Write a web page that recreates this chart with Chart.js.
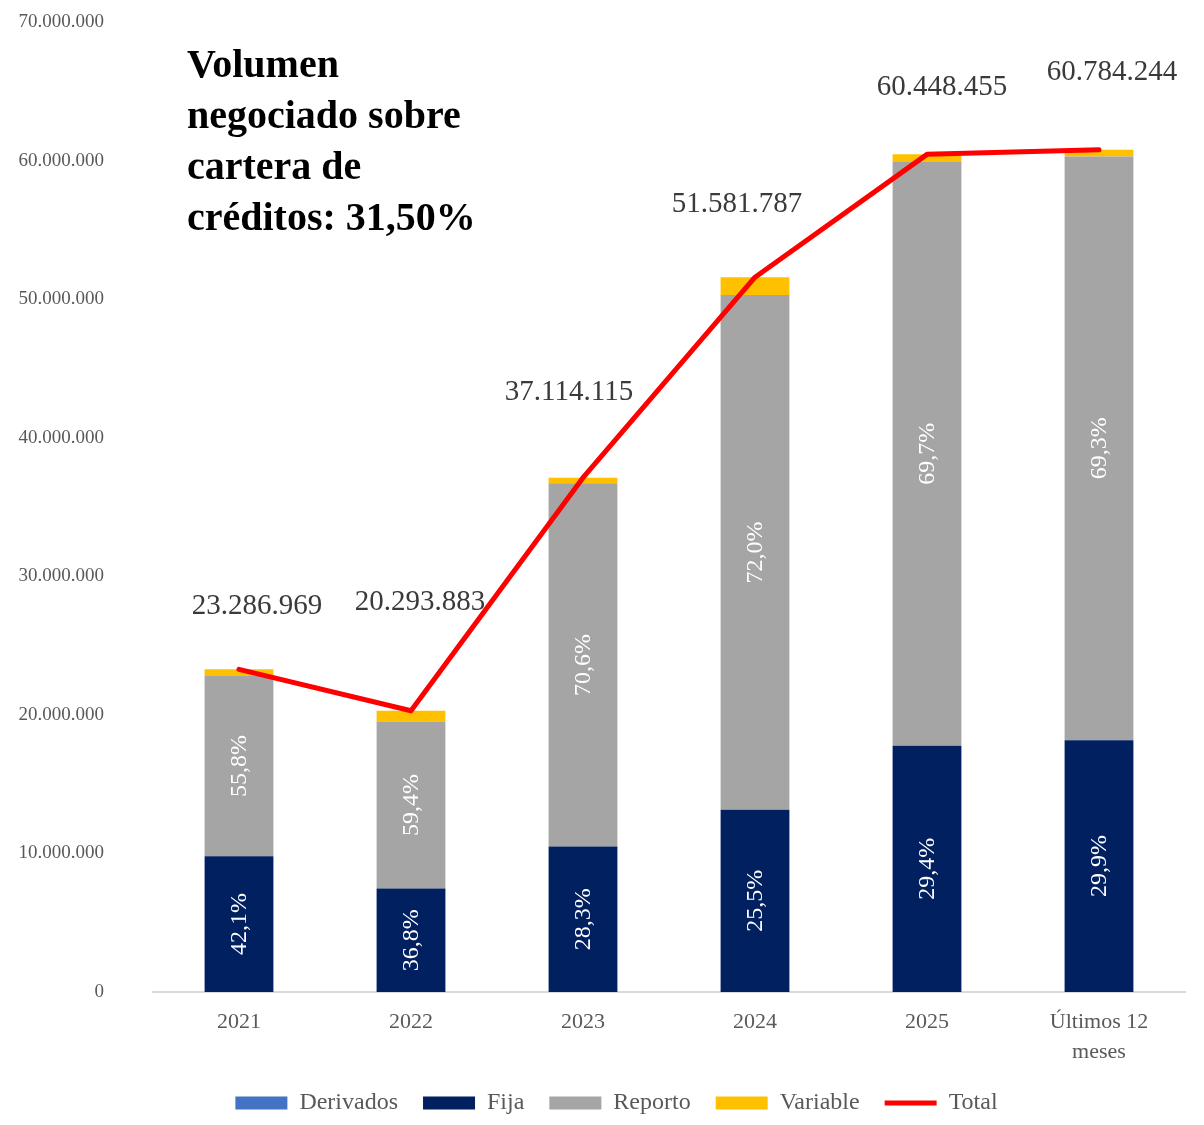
<!DOCTYPE html>
<html>
<head>
<meta charset="utf-8">
<script src="https://cdn.jsdelivr.net/npm/chart.js@4.4.1/dist/chart.umd.min.js"></script>
<style>
  html, body { margin: 0; padding: 0; background: #fff; }
  #wrap { width: 1204px; height: 1125px; }
</style>
</head>
<body>
<div id="wrap"><canvas id="volumen_chart"></canvas></div>
<script>
// datos
var categorias = ['2021', '2022', '2023', '2024', '2025', ['Últimos 12', 'meses']]
var derivados = [0, 0, 0, 0, 0, 0]
var fija = [9803814, 7468149, 10503295, 13153356, 17771846, 18174489]
var reporto = [12994129, 12054567, 26202565, 37138887, 42132573, 42123481]
var variable = [489026, 771167, 408255, 1289545, 544036, 486274]
var total = [23286969, 20293883, 37114115, 51581787, 60448455, 60784244]
var fijaPct = ['42,1%', '36,8%', '28,3%', '25,5%', '29,4%', '29,9%']
var reportoPct = ['55,8%', '59,4%', '70,6%', '72,0%', '69,7%', '69,3%']
var yTicks = [0, 10000000, 20000000, 30000000, 40000000, 50000000, 60000000, 70000000]

var serif = "'Liberation Serif', 'Times New Roman', serif"

function puntos(n) {
    return String(n).replace(/\B(?=(\d{3})+(?!\d))/g, '.')
}

// etiquetas de texto encima del grafico
const textosPlugin = {
    id: 'textos',
    afterLayout(chart, args, opts) {
        // correr la leyenda un poco a la derecha como en el original
        chart.legend.left += opts.legendShift
        chart.legend.right += opts.legendShift
    },
    afterDatasetsDraw(chart, args, opts) {
        var ctx = chart.ctx
        ctx.save()

        // porcentajes dentro de las barras
        ctx.fillStyle = '#ffffff'
        ctx.font = '24px ' + serif
        ctx.textAlign = 'center'
        ctx.textBaseline = 'middle'
        var pares = [[1, fijaPct], [2, reportoPct]]
        pares.forEach(function (p) {
            chart.getDatasetMeta(p[0]).data.forEach(function (bar, i) {
                var cy = (bar.y + bar.base) / 2
                ctx.save()
                ctx.translate(bar.x, cy)
                ctx.rotate(-Math.PI / 2)
                ctx.fillText(p[1][i], 0, 1)
                ctx.restore()
            })
        })

        // totales
        ctx.fillStyle = '#3a3a3a'
        ctx.font = '29px ' + serif
        chart.getDatasetMeta(4).data.forEach(function (pt, i) {
            var off = opts.offsets[i]
            ctx.fillText(puntos(total[i]), pt.x + off[0], pt.y + off[1])
        })

        // titulo
        ctx.fillStyle = '#000000'
        ctx.font = 'bold 40px ' + serif
        ctx.textAlign = 'left'
        ctx.textBaseline = 'alphabetic'
        opts.titulo.forEach(function (linea, i) {
            ctx.fillText(linea, opts.tituloX, opts.tituloY + i * 51)
        })
        ctx.restore()
    }
}

var ctx = document.getElementById('volumen_chart')

var data = {
    labels: categorias,
    datasets: [
        {label: 'Derivados', data: derivados, backgroundColor: '#4472c4', pointStyle: 'rect', order: 1, stack: 'barras'},
        {label: 'Fija', data: fija, backgroundColor: '#002060', pointStyle: 'rect', order: 1, stack: 'barras'},
        {label: 'Reporto', data: reporto, backgroundColor: '#a5a5a5', pointStyle: 'rect', order: 1, stack: 'barras'},
        {label: 'Variable', data: variable, backgroundColor: '#ffc000', pointStyle: 'rect', order: 1, stack: 'barras'},
        // order -1 para que la linea quede encima de las barras
        {label: 'Total', type: 'line', data: total, borderColor: '#ff0000', backgroundColor: '#ff0000',
         borderWidth: 5, pointRadius: 0, pointStyle: 'line', borderCapStyle: 'round', borderJoinStyle: 'round',
         tension: 0, order: -1, stack: 'linea'},
    ]
}

const config = {
    type: 'bar',
    data,
    options: {
        responsive: true,
        maintainAspectRatio: false,
        animation: false,
        layout: {padding: {top: 22, right: 19, left: 0, bottom: 0}},
        datasets: {bar: {categoryPercentage: 0.8, barPercentage: 0.5, borderWidth: 0}},
        scales: {
            x: {
                stacked: true,
                grid: {display: false, drawTicks: false},
                border: {display: true, color: '#d9d9d9', width: 2},
                ticks: {color: '#595959', font: {family: serif, size: 22, lineHeight: 1.36}, padding: 15, maxRotation: 0},
                afterFit: function (scale) { scale.height = 74 }
            },
            y: {
                stacked: true,
                min: 0,
                max: 70000000,
                grid: {display: false, drawTicks: false},
                border: {display: false},
                afterBuildTicks: function (scale) { scale.ticks = yTicks.map(function (v) { return {value: v} }) },
                ticks: {color: '#595959', font: {family: serif, size: 19}, padding: 49,
                        callback: function (v) { return puntos(v) }},
                afterFit: function (scale) {
                    scale.width = 153
                    scale.paddingTop = 0
                    scale.paddingBottom = 0
                }
            }
        },
        plugins: {
            legend: {
                position: 'bottom',
                labels: {
                    usePointStyle: true,
                    pointStyleWidth: 52,
                    boxHeight: 13,
                    color: '#595959',
                    font: {family: serif, size: 24},
                    padding: 25,
                    sort: function (a, b) { return a.datasetIndex - b.datasetIndex }
                }
            },
            tooltip: {enabled: false},
            textos: {
                offsets: [[18, -63], [9, -108], [-14, -85], [-18, -73], [15, -67], [13, -77]],
                titulo: ['Volumen', 'negociado sobre', 'cartera de', 'créditos: 31,50%'],
                tituloX: 187,
                tituloY: 77,
                legendShift: 24
            }
        }
    },
    plugins: [textosPlugin]
}

var myChart = new Chart(ctx, config)
</script>
</body>
</html>
